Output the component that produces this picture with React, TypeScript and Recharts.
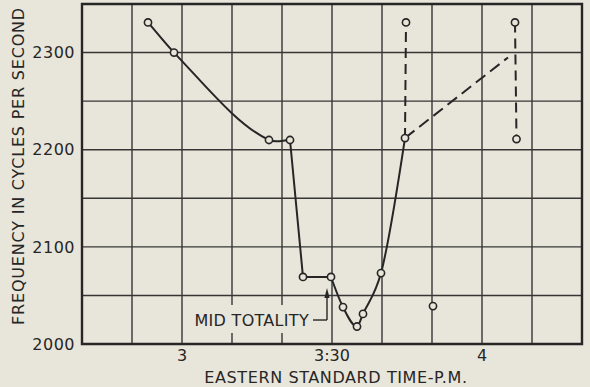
import React from 'react';
import {
  ComposedChart,
  Line,
  Scatter,
  XAxis,
  YAxis,
  CartesianGrid,
  ReferenceLine,
  ReferenceArea,
} from 'recharts';

const BG = '#e8e5da';
const INK = '#262626';
const GRID = '#363636';
const FONT = '"DejaVu Sans", sans-serif';

// t = minutes after 2:00 P.M. (Eastern Standard Time), f = frequency in cycles per second
const fallCurve = [
  { t: 53.2, f: 2331 },
  { t: 58.4, f: 2300 },
  { t: 77.4, f: 2210 },
  { t: 81.6, f: 2210 },
];
const totalityStep = [
  { t: 81.6, f: 2210 },
  { t: 84.2, f: 2069 },
  { t: 89.8, f: 2069 },
];
const recoveryCurve = [
  { t: 89.8, f: 2069 },
  { t: 92.2, f: 2038 },
  { t: 95.0, f: 2018 },
  { t: 96.2, f: 2031 },
  { t: 99.8, f: 2073 },
  { t: 104.6, f: 2212 },
];
const rangeFirst = [
  { t: 104.6, f: 2212 },
  { t: 104.8, f: 2331 },
];
const trendDashed = [
  { t: 104.6, f: 2212 },
  { t: 125.2, f: 2295 },
];
const rangeSecond = [
  { t: 126.6, f: 2331 },
  { t: 126.9, f: 2211 },
];
const isolatedPoints = [{ t: 110.2, f: 2039 }];

const observationMarks = [
  ...fallCurve,
  ...totalityStep.slice(1),
  ...recoveryCurve.slice(1),
  rangeFirst[1],
  ...rangeSecond,
  ...isolatedPoints,
];

// grid / tick values
const xGridTicks = [40, 50, 60, 70, 80, 90, 100, 110, 120, 130, 140];
const xTickLabels: Record<number, string> = { 60: '3', 90: '3:30', 120: '4' };
const yGridTicks = [2000, 2050, 2100, 2150, 2200, 2250, 2300, 2350];
const yTickLabels: Record<number, string> = { 2000: '2000', 2100: '2100', 2200: '2200', 2300: '2300' };

// "MID TOTALITY" pointer (data coordinates)
const midTotalityElbow = [
  { t: 86.2, f: 2024.7 },
  { t: 89.0, f: 2024.7 },
];
const midTotalityArrow = [
  { t: 89.0, f: 2024.7 },
  { t: 89.0, f: 2057.6 },
];

// cubic Hermite curve with finite-difference tangents (a d3-style curve factory)
const finiteDifferenceCurve: any = (context: any) => {
  let xs: number[] = [];
  let ys: number[] = [];
  return {
    areaStart() {},
    areaEnd() {},
    lineStart() {
      xs = [];
      ys = [];
    },
    point(x: number, y: number) {
      xs.push(+x);
      ys.push(+y);
    },
    lineEnd() {
      const n = xs.length;
      if (n === 0) return;
      context.moveTo(xs[0], ys[0]);
      if (n === 1) return;
      const s: number[] = [];
      for (let i = 0; i < n - 1; i++) s.push((ys[i + 1] - ys[i]) / (xs[i + 1] - xs[i]));
      const m: number[] = [];
      for (let i = 0; i < n; i++) {
        if (i === 0) m.push(s[0]);
        else if (i === n - 1) m.push(s[n - 2]);
        else m.push((s[i - 1] + s[i]) / 2);
      }
      for (let i = 0; i < n - 1; i++) {
        const h = xs[i + 1] - xs[i];
        context.bezierCurveTo(
          xs[i] + h / 3,
          ys[i] + (m[i] * h) / 3,
          xs[i + 1] - h / 3,
          ys[i + 1] - (m[i + 1] * h) / 3,
          xs[i + 1],
          ys[i + 1],
        );
      }
    },
  };
};

const XTick = (props: any) => {
  const { x, y, payload } = props;
  const label = xTickLabels[payload.value];
  if (!label) return null;
  return (
    <text x={x} y={y} dy="0.71em" textAnchor="middle" fill={INK} fontSize={16} fontFamily={FONT}>
      {label}
    </text>
  );
};

const YTick = (props: any) => {
  const { x, y, payload } = props;
  const label = yTickLabels[payload.value];
  if (!label) return null;
  return (
    <text x={x} y={y} dy="0.36em" textAnchor="end" fill={INK} fontSize={16} fontFamily={FONT} letterSpacing={0.5}>
      {label}
    </text>
  );
};

const Circle = (props: any) => {
  const { cx, cy } = props;
  return <circle cx={cx} cy={cy} r={3.6} fill={BG} stroke={INK} strokeWidth={1.6} />;
};

const ElbowShape = (props: any) => {
  const { x1, y1, x2, y2 } = props;
  return (
    <g>
      <rect x={x1 - 123} y={y1 - 15} width={121} height={28} fill={BG} />
      <text
        x={x1 - 4}
        y={y1}
        dy="0.36em"
        textAnchor="end"
        fill={INK}
        fontSize={16}
        fontFamily={FONT}
        letterSpacing={0.3}
      >
        MID TOTALITY
      </text>
      <line x1={x1} y1={y1} x2={x2} y2={y2} stroke={INK} strokeWidth={1.4} />
    </g>
  );
};

const ArrowShape = (props: any) => {
  const { x1, y1, x2, y2 } = props;
  return (
    <g>
      <line x1={x1} y1={y1} x2={x2} y2={y2 + 8} stroke={INK} strokeWidth={1.4} />
      <path d={`M${x2},${y2} L${x2 - 2.6},${y2 + 10} L${x2 + 2.6},${y2 + 10} Z`} fill={INK} />
    </g>
  );
};

export default function App() {
  return (
    <div style={{ position: 'absolute', left: 0, top: 0, width: 590, height: 387, background: BG }}>
      <ComposedChart
        width={590}
        height={387}
        margin={{ top: 4, right: 8, bottom: 0, left: 0 }}
        style={{ fontFamily: FONT }}
      >
        <CartesianGrid stroke={GRID} strokeWidth={1.4} horizontal vertical />
        <XAxis
          type="number"
          dataKey="t"
          domain={[40, 140]}
          ticks={xGridTicks}
          interval={0}
          height={43}
          tickSize={0}
          tickMargin={6}
          tickLine={false}
          axisLine={false}
          tick={<XTick />}
          allowDataOverflow
          label={() => (
            <text
              x={336}
              y={377.5}
              dy="0.36em"
              textAnchor="middle"
              fill={INK}
              fontSize={16}
              fontFamily={FONT}
              letterSpacing={0.6}
            >
              EASTERN STANDARD TIME-P.M.
            </text>
          )}
        />
        <YAxis
          type="number"
          dataKey="f"
          domain={[2000, 2350]}
          ticks={yGridTicks}
          interval={0}
          width={82}
          tickSize={0}
          tickMargin={7}
          tickLine={false}
          axisLine={false}
          tick={<YTick />}
          allowDataOverflow
          label={() => (
            <text
              x={18}
              y={166}
              dy="0.36em"
              textAnchor="middle"
              fill={INK}
              fontSize={16}
              fontFamily={FONT}
              letterSpacing={0.8}
              transform="rotate(-90 18 166)"
            >
              FREQUENCY IN CYCLES PER SECOND
            </text>
          )}
        />
        <ReferenceArea
          x1={40}
          x2={140}
          y1={2000}
          y2={2350}
          fill="none"
          fillOpacity={0}
          stroke={INK}
          strokeWidth={2.4}
        />
        <ReferenceLine segment={[
          { x: midTotalityElbow[0].t, y: midTotalityElbow[0].f },
          { x: midTotalityElbow[1].t, y: midTotalityElbow[1].f },
        ]} shape={ElbowShape} />
        <ReferenceLine segment={[
          { x: midTotalityArrow[0].t, y: midTotalityArrow[0].f },
          { x: midTotalityArrow[1].t, y: midTotalityArrow[1].f },
        ]} shape={ArrowShape} />
        <Line data={fallCurve} dataKey="f" type={finiteDifferenceCurve} stroke={INK} strokeWidth={2} dot={false} activeDot={false} isAnimationActive={false} />
        <Line data={totalityStep} dataKey="f" type="linear" stroke={INK} strokeWidth={2} dot={false} activeDot={false} isAnimationActive={false} />
        <Line data={recoveryCurve} dataKey="f" type="monotone" stroke={INK} strokeWidth={2} dot={false} activeDot={false} isAnimationActive={false} />
        <Line data={rangeFirst} dataKey="f" type="linear" stroke={INK} strokeWidth={2} strokeDasharray="10 6" dot={false} activeDot={false} isAnimationActive={false} />
        <Line data={trendDashed} dataKey="f" type="linear" stroke={INK} strokeWidth={2} strokeDasharray="12 6" dot={false} activeDot={false} isAnimationActive={false} />
        <Line data={rangeSecond} dataKey="f" type="linear" stroke={INK} strokeWidth={2} strokeDasharray="10 6" dot={false} activeDot={false} isAnimationActive={false} />
        <Scatter data={observationMarks} dataKey="f" shape={Circle} isAnimationActive={false} />
      </ComposedChart>
    </div>
  );
}
